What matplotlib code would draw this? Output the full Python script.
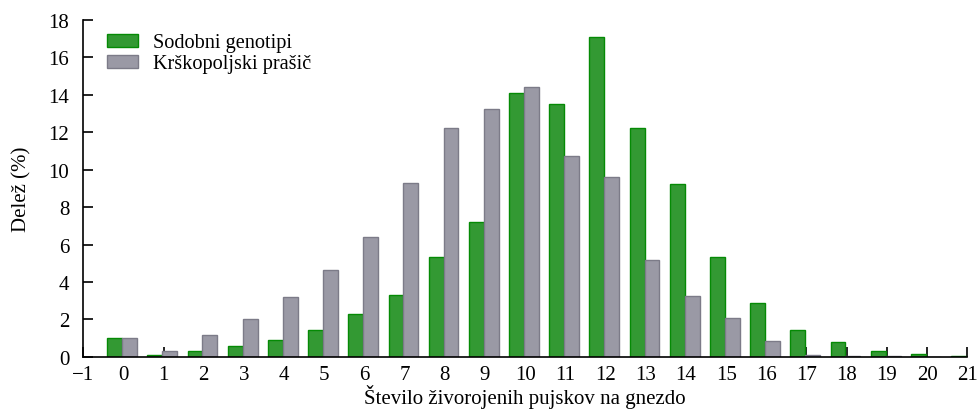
import numpy as np
import matplotlib.pyplot as plt

plt.rcParams['font.family'] = ['Liberation Serif', 'DejaVu Serif']

# stevilo zivorojenih pujskov na gnezdo
n_pujskov = np.arange(0, 22)
sodobni = [1.0, 0.12, 0.32, 0.6, 0.89, 1.42, 2.28, 3.31, 5.34, 7.21, 14.07,
           13.51, 17.11, 12.23, 9.22, 5.35, 2.9, 1.44, 0.78, 0.34, 0.18, 0.05]
krskopoljski = [1.03, 0.32, 1.19, 2.05, 3.2, 4.63, 6.39, 9.27, 12.23, 13.26, 14.42,
                10.75, 9.6, 5.18, 3.23, 2.07, 0.84, 0.12, 0.07, 0.03, 0.0, 0.0]

w = 0.37

fig = plt.figure(figsize=(9.78, 4.10), dpi=100)
ax = fig.add_axes([0.085, 0.127, 0.904, 0.822])

ax.bar(n_pujskov - 0.03, sodobni, width=-w, align='edge', color='#339933',
       edgecolor='#058a05', linewidth=1.0, label='Sodobni genotipi', zorder=2)
ax.bar(n_pujskov - 0.03, krskopoljski, width=w, align='edge', color='#9a99a5',
       edgecolor='#7c7b88', linewidth=1.0, label='Krškopoljski prašič', zorder=2)

ax.set_xlim(-1, 21)
ax.set_ylim(0, 18)
ax.set_xticks(np.arange(-1, 22))
ax.set_xticklabels(['\u22121'] + [str(i) for i in range(0, 22)])
ax.set_yticks(np.arange(0, 19, 2))

for s in ['top', 'right']:
    ax.spines[s].set_visible(False)
ax.spines['left'].set_linewidth(1.2)
ax.spines['bottom'].set_linewidth(1.2)
ax.tick_params(direction='in', length=7, width=1.2, labelsize=15, pad=6)
ax.tick_params(axis='y', pad=10)

ax.set_xlabel('Število živorojenih pujskov na gnezdo', fontsize=15, labelpad=0)
ax.set_ylabel('Delež (%)', fontsize=15, labelpad=12)

ax.legend(loc='upper left', bbox_to_anchor=(0.027, 0.96), frameon=False,
          fontsize=14.6, handlelength=1.55, handleheight=0.62, labelspacing=0.1,
          handletextpad=0.7, borderpad=0, borderaxespad=0)

fig.savefig('out.png', dpi=100)
